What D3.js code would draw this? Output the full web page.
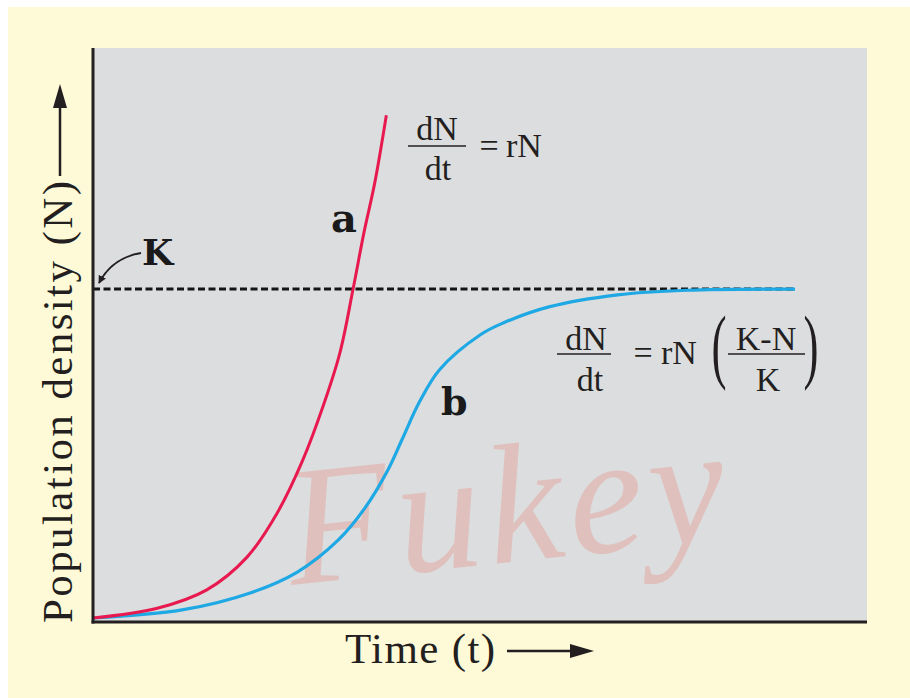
<!DOCTYPE html>
<html>
<head>
<meta charset="utf-8">
<script src="https://cdn.jsdelivr.net/npm/d3@7"></script>
<style>
  body { margin: 0; background: #ffffff; }
  svg { display: block; }
</style>
</head>
<body>
<svg id="chart"></svg>
<script>
const width = 910;
const height = 698;
const serif = "'Liberation Serif', 'Times New Roman', Times, serif";

// time (t) values and population density (N)
const timeA = [0, 0.83, 1.47, 1.99, 2.38, 2.71, 2.97, 3.19, 3.36, 3.50, 3.64, 3.79];
const densityA = [0.7, 2.4, 5.6, 11.3, 19.0, 28.2, 37.5, 46.9, 58.0, 67.8, 76.5, 88.3];

const timeB = [0, 1.15, 2.04, 2.64, 3.17, 3.51, 3.81, 3.99, 4.22, 4.48, 5.0, 5.3, 5.89, 6.78, 7.67, 9.07];
const densityB = [0.7, 2.1, 5.1, 8.7, 14.3, 19.8, 26.5, 31.7, 38.4, 44.0, 50.0, 52.1, 54.9, 57.0, 57.8, 58.0];

const carryingCapacity = 58.0;
const kLineEnd = 9.07;

const svg = d3.select("#chart")
    .attr("width", width)
    .attr("height", height);

// page background
svg.append("rect")
    .attr("x", 8).attr("y", 7)
    .attr("width", width - 8).attr("height", height - 7)
    .attr("fill", "#fef9d7");

const x = d3.scaleLinear().domain([0, 10]).range([93, 867]);
const y = d3.scaleLinear().domain([0, 100]).range([622, 48]);

// plot area
svg.append("rect")
    .attr("x", x(0)).attr("y", y(100))
    .attr("width", x(10) - x(0)).attr("height", y(0) - y(100))
    .attr("fill", "#dcdddf");

// watermark
svg.append("text")
    .attr("x", 292).attr("y", 585)
    .attr("transform", "rotate(-6, 292, 585)")
    .attr("font-family", serif)
    .attr("font-style", "italic")
    .attr("font-size", 170)
    .attr("textLength", 440)
    .attr("fill", "#e59a90")
    .attr("opacity", 0.42)
    .text("Fukey");

// carrying capacity K
svg.append("line")
    .attr("x1", x(0)).attr("x2", x(kLineEnd))
    .attr("y1", y(carryingCapacity)).attr("y2", y(carryingCapacity))
    .attr("stroke", "#151515")
    .attr("stroke-width", 3)
    .attr("stroke-dasharray", "7,3.5");

const line = d3.line()
    .x(d => x(d[0]))
    .y(d => y(d[1]))
    .curve(d3.curveCatmullRom.alpha(0.5));

svg.append("path")
    .datum(timeB.map((t, i) => [t, densityB[i]]))
    .attr("d", line)
    .attr("fill", "none")
    .attr("stroke", "#1ea8e4")
    .attr("stroke-width", 3.2);

svg.append("path")
    .datum(timeA.map((t, i) => [t, densityA[i]]))
    .attr("d", line)
    .attr("fill", "none")
    .attr("stroke", "#e8194f")
    .attr("stroke-width", 3);

// axes
svg.append("line")
    .attr("x1", x(0)).attr("x2", x(0))
    .attr("y1", y(100)).attr("y2", y(0) + 1.5)
    .attr("stroke", "#231f20").attr("stroke-width", 3);
svg.append("line")
    .attr("x1", x(0) - 1.5).attr("x2", x(10))
    .attr("y1", y(0)).attr("y2", y(0))
    .attr("stroke", "#231f20").attr("stroke-width", 3);

// arrowhead for the K pointer
const defs = svg.append("defs");
defs.append("marker")
    .attr("id", "head")
    .attr("viewBox", "0 0 10 10")
    .attr("refX", 9).attr("refY", 5)
    .attr("markerWidth", 8).attr("markerHeight", 8)
    .attr("markerUnits", "userSpaceOnUse")
    .attr("orient", "auto")
    .append("path")
    .attr("d", "M0,0 L10,5 L0,10 Z")
    .attr("fill", "#231f20");

// axis titles
svg.append("text")
    .attr("transform", "translate(72,623) rotate(-90)")
    .attr("font-family", serif)
    .attr("font-size", 43)
    .attr("textLength", 442)
    .attr("fill", "#231f20")
    .text("Population density (N)");

svg.append("line")
    .attr("x1", 60).attr("x2", 60)
    .attr("y1", 176).attr("y2", 106)
    .attr("stroke", "#231f20").attr("stroke-width", 2.5);
svg.append("path")
    .attr("d", "M60,84 L53,108 L67,108 Z")
    .attr("fill", "#231f20");

svg.append("text")
    .attr("x", 345).attr("y", 663)
    .attr("font-family", serif)
    .attr("font-size", 43)
    .attr("textLength", 150)
    .attr("fill", "#231f20")
    .text("Time (t)");

svg.append("line")
    .attr("x1", 507).attr("x2", 572)
    .attr("y1", 651).attr("y2", 651)
    .attr("stroke", "#231f20").attr("stroke-width", 2.5);
svg.append("path")
    .attr("d", "M594,651 L570,644 L570,658 Z")
    .attr("fill", "#231f20");

// K label with curved pointer
svg.append("text")
    .attr("x", 142).attr("y", 265)
    .attr("font-family", "DejaVu Serif")
    .attr("font-weight", "bold")
    .attr("font-size", 36)
    .attr("fill", "#1a1a1a")
    .text("K");
svg.append("path")
    .attr("d", "M141,253 Q112,258 99,283")
    .attr("fill", "none")
    .attr("stroke", "#231f20")
    .attr("stroke-width", 1.8)
    .attr("marker-end", "url(#head)");

// curve labels
svg.append("text")
    .attr("x", 331).attr("y", 232)
    .attr("font-family", "DejaVu Serif")
    .attr("font-weight", "bold")
    .attr("font-size", 40)
    .attr("fill", "#1a1a1a")
    .text("a");
svg.append("text")
    .attr("x", 441).attr("y", 415)
    .attr("font-family", "DejaVu Serif")
    .attr("font-weight", "bold")
    .attr("font-size", 38)
    .attr("fill", "#1a1a1a")
    .text("b");

// equations
function eqText(tx, ty, s, size, anchor) {
    return svg.append("text")
        .attr("x", tx).attr("y", ty)
        .attr("font-family", serif)
        .attr("font-size", size || 33)
        .attr("text-anchor", anchor || "start")
        .attr("fill", "#231f20")
        .text(s);
}
function bar(x1, x2, by) {
    svg.append("line")
        .attr("x1", x1).attr("x2", x2)
        .attr("y1", by).attr("y2", by)
        .attr("stroke", "#231f20").attr("stroke-width", 1.6);
}
function bigParen(px, py, s) {
    svg.append("text")
        .attr("transform", `translate(${px},${py}) scale(0.55,1)`)
        .attr("font-family", serif)
        .attr("font-size", 82)
        .attr("text-anchor", "middle")
        .attr("fill", "#231f20")
        .text(s);
}

// exponential growth: dN/dt = rN
eqText(437, 140, "dN", 34, "middle");
bar(408, 466, 146);
eqText(438, 180, "dt", 34, "middle");
eqText(489, 157, "=", 34, "middle");
eqText(506, 157, "rN", 34);

// logistic growth: dN/dt = rN((K-N)/K)
eqText(586, 350, "dN", 34, "middle");
bar(557, 611, 354);
eqText(590, 391, "dt", 34, "middle");
eqText(643, 364, "=", 34, "middle");
eqText(661, 364, "rN", 34);
bigParen(719, 373, "(");
eqText(766, 350, "K-N", 34, "middle");
bar(728, 805, 354);
eqText(768, 391, "K", 34, "middle");
bigParen(811, 373, ")");
</script>
</body>
</html>
